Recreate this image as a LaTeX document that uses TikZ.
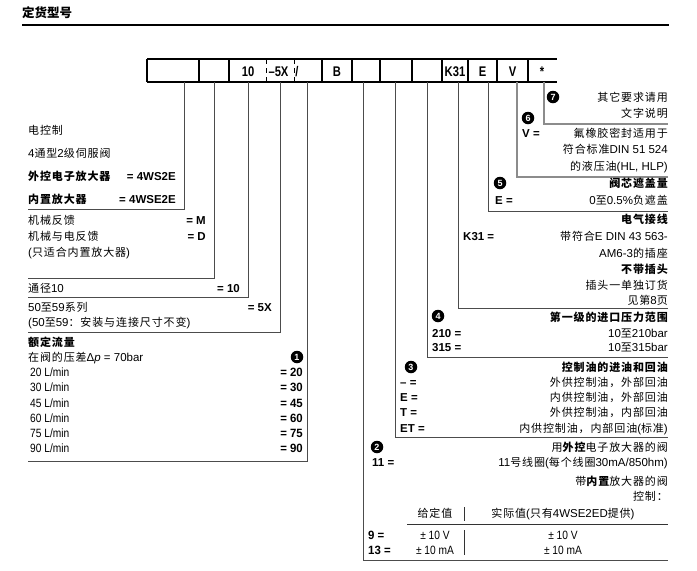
\documentclass[tikz,border=0pt]{standalone}
\usepackage{fontspec}
\setmainfont{Liberation Sans}
\newfontfamily\zhf[LetterSpace=8]{Noto Sans CJK SC}
\newfontfamily\zhtitle{Noto Sans CJK SC}
\newfontfamily\condf[FakeStretch=0.85]{Liberation Sans}
\newfontfamily\condbf[FakeStretch=0.95]{Liberation Sans}
\newfontfamily\boxf[FakeStretch=0.8]{Liberation Sans}
\newcommand\zz[1]{{\zhf\fontsize{11}{13}\selectfont #1}}
\newcommand\zb[1]{{\zhf\bfseries\fontsize{11}{13}\selectfont #1}}
\begin{document}
\begin{tikzpicture}[x=1pt,y=-1pt,
  every node/.style={inner sep=0pt, text height=9pt, text depth=1pt},
  L/.style={anchor=west, font=\fontsize{11.5}{13}\selectfont},
  R/.style={anchor=east, font=\fontsize{11.5}{13}\selectfont},
  C/.style={anchor=center, font=\fontsize{11.5}{13}\selectfont},
  Lb/.style={anchor=west, font=\bfseries\fontsize{11.5}{13}\selectfont},
  Rb/.style={anchor=east, font=\bfseries\fontsize{11.5}{13}\selectfont},
  Lc/.style={anchor=west, font=\condf\fontsize{12}{13}\selectfont},
  Cc/.style={anchor=center, font=\condf\fontsize{12}{13}\selectfont},
  Lcb/.style={anchor=west, font=\condbf\bfseries\fontsize{12}{13}\selectfont},
  Rcb/.style={anchor=east, font=\condbf\bfseries\fontsize{12}{13}\selectfont},
  num/.style={circle, fill=black, text=white, font=\bfseries\fontsize{9}{9}\selectfont,
    minimum size=12.5pt, text height=6.5pt, text depth=0pt},
  boxt/.style={font=\boxf\bfseries\fontsize{14}{14}\selectfont, text height=10pt, text depth=0pt},
  grid/.style={line width=1.2pt, black},
  conn/.style={line width=0.9pt, black!70},
  connl/.style={line width=1.6pt, black!45},
  tbl/.style={line width=0.8pt, black!80}
]
\fill[white] (0,0) rectangle (697,571);
\useasboundingbox (0,0) rectangle (697,571);

% title
\node[anchor=west, font=\zhtitle\bfseries\fontsize{12.5}{12.5}\selectfont, text height=10pt, text depth=1pt] (title) at (22,13) {定货型号};
\draw[line width=2.5pt] (22,25) -- (669,25);

% ordering code row
\draw[grid] (147,59) -- (557,59);
\draw[grid] (147,82) -- (557,82);
\foreach \x in {147,199,229,322,352,380,412,442,468,497,528}
  \draw[grid] (\x,59) -- (\x,82);
\foreach \x in {266,294}
  \draw[line width=1pt, dash pattern=on 5pt off 4pt] (\x,59) -- (\x,82);
\node[boxt] (c10) at (248,71) {10};
\node[boxt] (c5x) at (278.5,71) {–5X};
\node[boxt] (csl) at (297,71) {/};
\node[boxt] (cb) at (337,71) {B};
\node[boxt] (ck31) at (455,71) {K31};
\node[boxt] (ce) at (482.5,71) {E};
\node[boxt] (cv) at (512.5,71) {V};
\node[boxt] (cst) at (542,71) {*};

% connector start points (bottom of code row)
\coordinate (b1) at (184,82);
\coordinate (b2) at (214,82);
\coordinate (b3) at (248,82);
\coordinate (b4) at (280,82);
\coordinate (b5) at (307,82);
\coordinate (b6) at (363,82);
\coordinate (b7) at (395,82);
\coordinate (b8) at (427,82);
\coordinate (b9) at (458,82);
\coordinate (b10) at (488,82);
\coordinate (b11) at (517,82);
\coordinate (b12) at (544,82);
% connector end points
\coordinate (e1) at (28,209);
\coordinate (e2) at (28,278);
\coordinate (e3) at (28,297);
\coordinate (e4) at (28,332);
\coordinate (e5) at (28,461);
\coordinate (e6) at (668,560);
\coordinate (e7) at (668,437);
\coordinate (e8) at (668,357);
\coordinate (e9) at (668,308);
\coordinate (e10) at (668,211);
\coordinate (e11) at (668,177);
\coordinate (e12) at (668,124);
\foreach \i in {1,...,10} \draw[conn] (b\i) |- (e\i);
\foreach \i in {11,12} \draw[connl] (b\i) |- (e\i);

% left column
\node[L] (t1) at (28,130) {\zz{电控制}};
\node[L] (t2) at (28,153) {4\zz{通型}2\zz{级伺服阀}};
\node[L] (t3) at (28,176) {\zb{外控电子放大器}};
\node[Rb] (v3) at (176,176) {= 4WS2E};
\node[L] (t4) at (28,199) {\zb{内置放大器}};
\node[Rb] (v4) at (176,199) {= 4WSE2E};
\node[L] (t5) at (28,220) {\zz{机械反馈}};
\node[Rb] (v5) at (206,220) {= M};
\node[L] (t6) at (28,236) {\zz{机械与电反馈}};
\node[Rb] (v6) at (206,236) {= D};
\node[L] (t7) at (28,252) {(\zz{只适合内置放大器})};
\node[L] (t8) at (28,288) {\zz{通径}10};
\node[Rb] (v8) at (240,288) {= 10};
\node[L] (t9) at (28,307) {50\zz{至}59\zz{系列}};
\node[Rb] (v9) at (272,307) {= 5X};
\node[L] (t10) at (28,322) {(50\zz{至}59\zz{：安装与连接尺寸不变})};
\node[L] (t11) at (28,342) {\zb{额定流量}};
\node[L] (t12) at (28,357) {\zz{在阀的压差}Δ\textit{p} = 70bar};
\node[num] (n1) at (297,357) {1};
\foreach \i/\q/\y in {a/20/372, b/30/387, c/45/403, d/60/418, e/75/433, f/90/448} {
  \node[Lc] (q\i) at (30,\y) {\q\ L/min};
  \node[Rcb] (w\i) at (303,\y) {= \q};
}

% right column: 7
\node[num] (n7) at (553,97) {7};
\node[R] (r71) at (668,97) {\zz{其它要求请用}};
\node[R] (r72) at (668,113) {\zz{文字说明}};
% 6
\node[num] (n6) at (528,118) {6};
\node[Lb] (l6) at (522,133) {V =};
\node[R] (r61) at (668,133) {\zz{氟橡胶密封适用于}};
\node[R] (r62) at (668,149) {\zz{符合标准}DIN 51 524};
\node[R] (r63) at (668,166) {\zz{的液压油}(HL, HLP)};
% 5
\node[num] (n5) at (500,183) {5};
\node[R] (r51) at (668,183) {\zb{阀芯遮盖量}};
\node[Lb] (l5) at (495,200) {E =};
\node[R] (r52) at (668,200) {0\zz{至}0.5\%\zz{负遮盖}};
% electrical
\node[R] (r41) at (668,219) {\zb{电气接线}};
\node[Lb] (lk) at (463,236) {K31 =};
\node[R] (r42) at (668,236) {\zz{带符合}E DIN 43 563-};
\node[R] (r43) at (668,253) {AM6-3\zz{的插座}};
\node[R] (r44) at (668,269) {\zb{不带插头}};
\node[R] (r45) at (668,285) {\zz{插头一单独订货}};
\node[R] (r46) at (668,300) {\zz{见第}8\zz{页}};
% 4
\node[num] (n4) at (438,316) {4};
\node[R] (r31) at (668,317) {\zb{第一级的进口压力范围}};
\node[Lb] (l31) at (432,333) {210 =};
\node[R] (r32) at (668,333) {10\zz{至}210bar};
\node[Lb] (l32) at (432,347) {315 =};
\node[R] (r33) at (668,347) {10\zz{至}315bar};
% 3
\node[num] (n3) at (411,367) {3};
\node[R] (r21) at (668,367) {\zb{控制油的进油和回油}};
\node[Lb] (l21) at (400,382) {– =};
\node[R] (r22) at (668,382) {\zz{外供控制油，外部回油}};
\node[Lb] (l22) at (400,397) {E =};
\node[R] (r23) at (668,397) {\zz{内供控制油，外部回油}};
\node[Lb] (l23) at (400,412) {T =};
\node[R] (r24) at (668,412) {\zz{外供控制油，内部回油}};
\node[Lb] (l24) at (400,428) {ET =};
\node[R] (r25) at (668,428) {\zz{内供控制油，内部回油}(\zz{标准})};
% 2
\node[num] (n2) at (377,447) {2};
\node[R] (r11) at (668,447) {\zz{用}\zb{外控}\zz{电子放大器的阀}};
\node[Lb] (l11) at (372,462) {11 =};
\node[R] (r12) at (668,462) {11\zz{号线圈}(\zz{每个线圈}30mA/850hm)};
\node[R] (r13) at (668,481) {\zz{带}\zb{内置}\zz{放大器的阀}};
\node[R] (r14) at (668,496) {\zz{控制：}};
% table
\node[C] (h1) at (435,513) {\zz{给定值}};
\node[C] (h2) at (563,513) {\zz{实际值}(\zz{只有}4WSE2ED\zz{提供})};
\draw[tbl] (407,524) -- (668,524);
\draw[tbl] (464,507) -- (464,521);
\draw[tbl] (464,530) -- (464,555);
\node[Lcb] (k9) at (368,535) {9 =};
\node[Cc] (k9a) at (435,535) {± 10 V};
\node[Cc] (k9b) at (563,535) {± 10 V};
\node[Lcb] (k13) at (368,550) {13 =};
\node[Cc] (k13a) at (435,550) {± 10 mA};
\node[Cc] (k13b) at (563,550) {± 10 mA};
\end{tikzpicture}
\end{document}
